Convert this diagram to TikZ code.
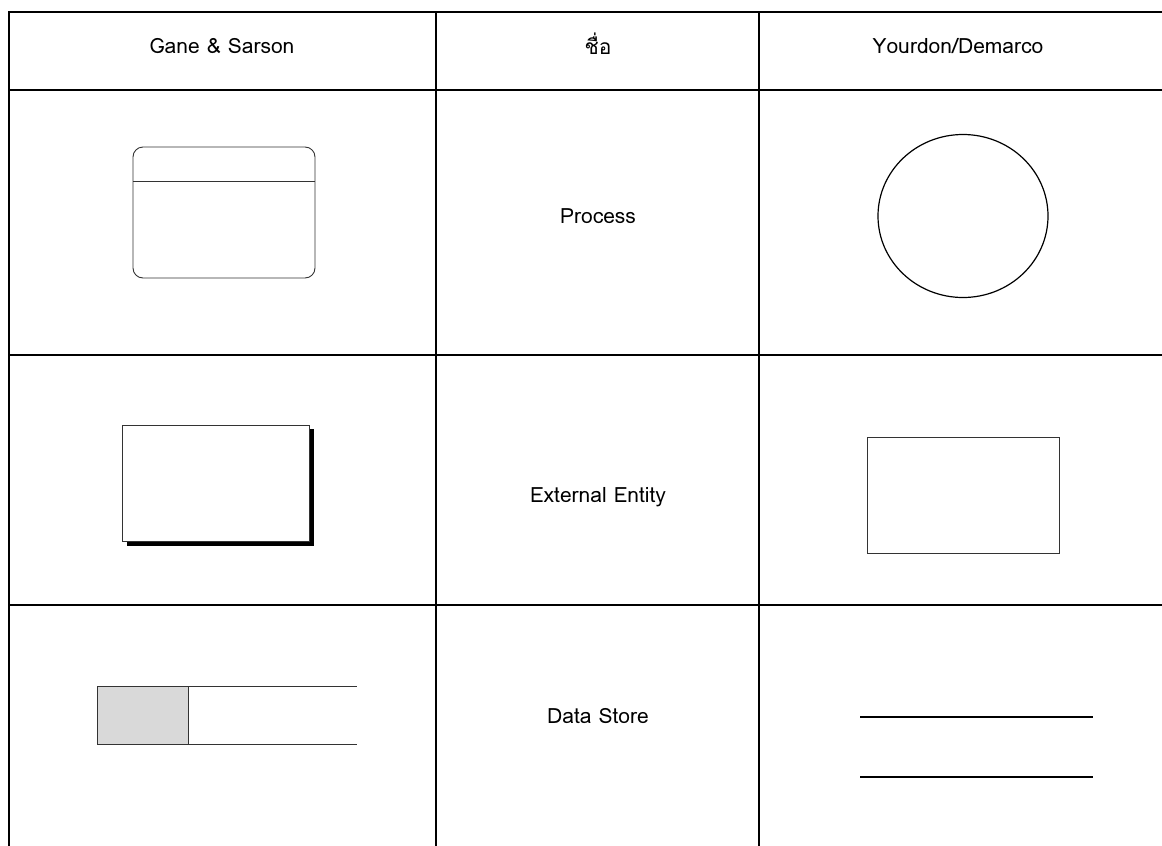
\documentclass[tikz,border=0pt]{standalone}
\usepackage{fontspec}
\setmainfont[Script=Thai]{Loma}
\begin{document}
\begin{tikzpicture}[x=1pt,y=-1pt,
  grid/.style={line width=1.6pt,black},
  thin/.style={line width=0.9pt,black!80},
  lbl/.style={font=\fontsize{21}{24}\selectfont,inner sep=0pt,anchor=center}]
\useasboundingbox (0,0) rectangle (1162,846);
% table
\draw[grid] (1162,12) -- (9,12) -- (9,846);
\draw[grid] (9,90) -- (1162,90);
\draw[grid] (9,355) -- (1162,355);
\draw[grid] (9,605) -- (1162,605);
\draw[grid] (436,12) -- (436,846);
\draw[grid] (759,12) -- (759,846);
% headers
\node[lbl] (h1) at (222,46) {Gane \& Sarson};
\node[lbl] (h2) at (598,44) {ชื่อ};
\node[lbl] (h3) at (958,46) {Yourdon/Demarco};
% names
\node[lbl] (n1) at (598,216) {Process};
\node[lbl] (n2) at (598,497) {External Entity};
\node[lbl] (n3) at (598,716) {Data Store};
% Gane & Sarson process
\draw[thin,rounded corners=10pt] (133,147) rectangle (315,278);
\draw[thin] (133,181) -- (315,181);
% Yourdon process
\draw[line width=1.2pt] (963,216) ellipse (85 and 81.5);
% Gane & Sarson entity with shadow
\fill[black] (127,429) rectangle (314,546);
\draw[thin,fill=white] (122,425) rectangle (309,541);
% Yourdon entity
\draw[thin] (867,437) rectangle (1059,553);
% Gane & Sarson data store
\draw[thin,fill=black!15] (97,686) rectangle (188,744);
\draw[thin] (188,686) -- (357,686);
\draw[thin] (188,744) -- (357,744);
% Yourdon data store
\draw[line width=1.2pt] (860,717) -- (1093,717);
\draw[line width=1.2pt] (860,777) -- (1093,777);
\end{tikzpicture}
\end{document}
